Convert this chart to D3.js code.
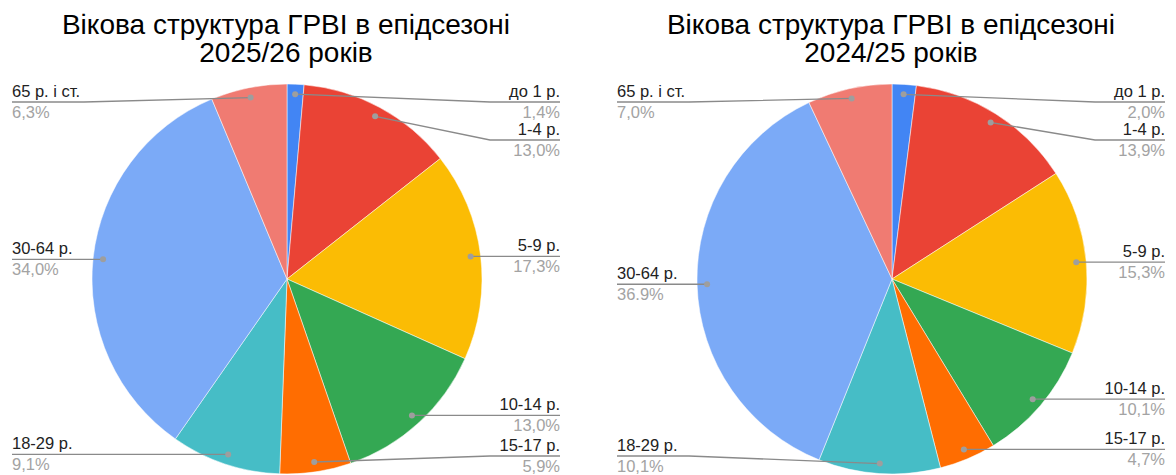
<!DOCTYPE html>
<html>
<head>
<meta charset="utf-8">
<script src="https://cdn.jsdelivr.net/npm/d3@7"></script>
<style>
  html, body { margin: 0; padding: 0; background: #fff; }
  svg { display: block; font-family: Arial, "Liberation Sans", sans-serif; }
</style>
</head>
<body>
<svg id="chart" width="1176" height="475"></svg>
<script>
const categories = ["до 1 р.", "1-4 р.", "5-9 р.", "10-14 р.", "15-17 р.", "18-29 р.", "30-64 р.", "65 р. і ст."];
const values2526 = [1.4, 13.0, 17.3, 13.0, 5.9, 9.1, 34.0, 6.3];
const values2425 = [2.0, 13.9, 15.3, 10.1, 4.7, 10.1, 36.9, 7.0];
const valueLabels2526 = ["1,4%", "13,0%", "17,3%", "13,0%", "5,9%", "9,1%", "34,0%", "6,3%"];
const valueLabels2425 = ["2,0%", "13,9%", "15,3%", "10,1%", "4,7%", "10,1%", "36.9%", "7,0%"];
const titleLine1 = "Вікова структура ГРВІ в епідсезоні";
const titles2 = ["2025/26 років", "2024/25 років"];
const colors = ["#4285F4", "#EA4335", "#FBBC04", "#34A853", "#FF6D01", "#46BDC6", "#7BAAF7", "#F07B72"];

const charts = [
  { values: values2526, labels: valueLabels2526, title2: titles2[0], cx: 287, cy: 279, titleX: 286 },
  { values: values2425, labels: valueLabels2425, title2: titles2[1], cx: 892, cy: 279, titleX: 891 }
];

const svg = d3.select("#chart");
const R = 195;
const dotR = 185;
const labelTop = 102, labelBottom = 456, minGap = 38;
const color = d3.scaleOrdinal().domain(categories).range(colors);

charts.forEach(ch => {
  const g = svg.append("g");
  g.append("text").attr("x", ch.titleX).attr("y", 34).attr("text-anchor", "middle")
    .attr("font-size", 28).attr("fill", "#000").text(titleLine1);
  g.append("text").attr("x", ch.titleX).attr("y", 62).attr("text-anchor", "middle")
    .attr("font-size", 28).attr("fill", "#000").text(ch.title2);

  const data = categories.map((c, i) => ({ cat: c, value: ch.values[i], label: ch.labels[i] }));
  const pie = d3.pie().sort(null).value(d => d.value);
  const arcs = pie(data);
  const arc = d3.arc().innerRadius(0).outerRadius(R);

  const pg = g.append("g").attr("transform", `translate(${ch.cx},${ch.cy})`);
  pg.selectAll("path.slice").data(arcs).enter().append("path")
    .attr("class", "slice")
    .attr("d", arc)
    .attr("fill", d => color(d.data.cat))
    .attr("stroke", "#fff").attr("stroke-width", 0.5);

  const items = arcs.map(a => {
    const mid = (a.startAngle + a.endAngle) / 2;
    const x = Math.sin(mid) * dotR, y = -Math.cos(mid) * dotR;
    return { a, x, y, side: x >= 0 ? 1 : -1, ly: Math.max(labelTop - ch.cy, Math.min(labelBottom - ch.cy, y)) };
  });
  [1, -1].forEach(side => {
    const s = items.filter(d => d.side === side).sort((p, q) => p.ly - q.ly);
    for (let i = 1; i < s.length; i++) if (s[i].ly < s[i-1].ly + minGap) s[i].ly = s[i-1].ly + minGap;
    for (let i = s.length - 1; i >= 0; i--) {
      const lim = i === s.length - 1 ? labelBottom - ch.cy : s[i+1].ly - minGap;
      if (s[i].ly > lim) s[i].ly = lim;
    }
  });

  const lg = pg.append("g");
  items.forEach(d => {
    const elbowX = d.side * (R + 8);
    const textX = d.side > 0 ? 273 : -275;
    const straight = Math.abs(d.ly - d.y) < 0.5;
    const path = straight
      ? `M${d.x},${d.y}L${textX},${d.ly}`
      : `M${d.x},${d.y}L${elbowX},${d.ly}L${textX},${d.ly}`;
    lg.append("path").attr("d", path).attr("fill", "none")
      .attr("stroke", "#8a8a8a").attr("stroke-width", 1.3);
    lg.append("circle").attr("cx", d.x).attr("cy", d.y).attr("r", 3).attr("fill", "#9e9e9e");
    const anchor = d.side > 0 ? "end" : "start";
    lg.append("text").attr("x", textX).attr("y", d.ly - 5).attr("text-anchor", anchor)
      .attr("font-size", 16.5).attr("fill", "#222").text(d.a.data.cat);
    lg.append("text").attr("x", textX).attr("y", d.ly + 16).attr("text-anchor", anchor)
      .attr("font-size", 16.5).attr("fill", "#a3a3a3").text(d.a.data.label);
  });
});
</script>
</body>
</html>
